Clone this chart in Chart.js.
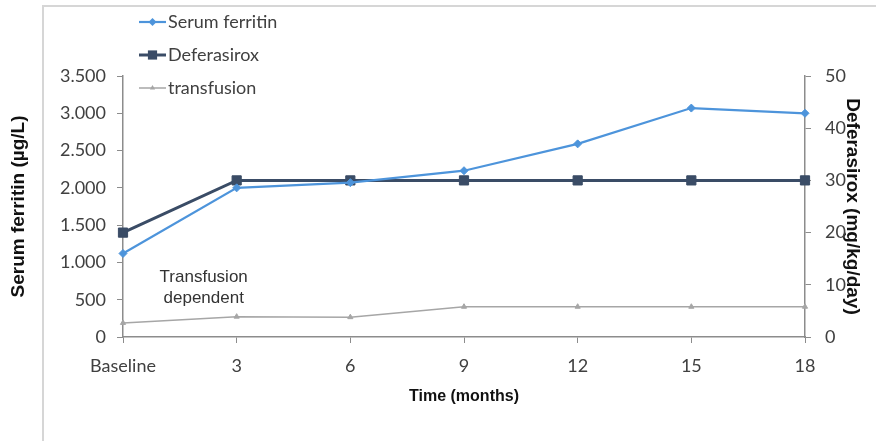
<!DOCTYPE html>
<html><head><meta charset="utf-8">
<script src="https://cdn.jsdelivr.net/npm/chart.js@4.4.1/dist/chart.umd.min.js"></script>
<style>html,body{margin:0;padding:0;background:#fff}#wrap{width:876px;height:441px;position:relative}</style>
</head><body><div id="wrap"><canvas id="c" width="876" height="441"></canvas></div>
<script>
// ---- data ----
const categories = ['Baseline', '3', '6', '9', '12', '15', '18'];
const serumFerritin = [1120, 2000, 2070, 2230, 2590, 3070, 3000];
const deferasirox = [20, 30, 30, 30, 30, 30, 30];
const transfusion = [2.7, 3.9, 3.8, 5.8, 5.8, 5.8, 5.8];
const seriesNames = ['Serum ferritin', 'Deferasirox', 'transfusion'];
const leftAxisMax = 3500, leftAxisStep = 500;
const rightAxisMax = 50, rightAxisStep = 10;
const annotationLines = ['Transfusion', 'dependent'];
const annotationAnchor = { x: 0.71, y: 665 };

const colFerritin = '#4d94db', colDef = '#3a4c66', colTrans = '#a6a6a6';
const axisCol = '#8c8c8c', tickTextCol = '#404040';
const tickFont = { family: 'Lato, "Liberation Sans", sans-serif', size: 18 };

function fmt(v) { return String(v).replace(/\B(?=(\d{3})+(?!\d))/g, '.'); }

const framePlugin = {
  id: 'frame',
  beforeDraw(chart) {
    const ctx = chart.ctx;
    ctx.save();
    ctx.strokeStyle = '#d6d6d6';
    ctx.lineWidth = 2;
    ctx.beginPath();
    ctx.moveTo(876, 6); ctx.lineTo(43, 6); ctx.lineTo(43, 441);
    ctx.stroke();
    ctx.restore();
  }
};

function marker(ctx, style, x, y, r, color) {
  ctx.fillStyle = color;
  ctx.beginPath();
  if (style === 'rectRot') {
    ctx.moveTo(x, y - r); ctx.lineTo(x + r, y); ctx.lineTo(x, y + r); ctx.lineTo(x - r, y);
  } else if (style === 'rect') {
    const s = r * Math.SQRT1_2; ctx.rect(x - s, y - s, 2 * s, 2 * s);
  } else {
    ctx.moveTo(x, y - r); ctx.lineTo(x + r * 0.87, y + r * 0.5); ctx.lineTo(x - r * 0.87, y + r * 0.5);
  }
  ctx.closePath(); ctx.fill();
}

const legendPlugin = {
  id: 'customLegend',
  afterDraw(chart) {
    const ctx = chart.ctx;
    const ys = [22, 55, 88];
    ctx.save();
    chart.data.datasets.forEach((ds, i) => {
      const y = ys[i];
      ctx.strokeStyle = ds.borderColor; ctx.lineWidth = ds.borderWidth;
      ctx.beginPath(); ctx.moveTo(139, y); ctx.lineTo(166, y); ctx.stroke();
      marker(ctx, ds.pointStyle, 152.5, y, ds.pointRadius, ds.borderColor);
      ctx.fillStyle = tickTextCol;
      ctx.font = '18px Lato, "Liberation Sans", sans-serif';
      ctx.textBaseline = 'middle'; ctx.textAlign = 'left';
      ctx.fillText(ds.label, 168, y);
    });
    // annotation
    const xs = chart.scales.x, ysL = chart.scales.y;
    const cx = xs.left + annotationAnchor.x * (xs.getPixelForValue(1) - xs.getPixelForValue(0));
    const cy = ysL.getPixelForValue(annotationAnchor.y);
    ctx.font = '17px "Liberation Sans", Arial, sans-serif';
    ctx.fillStyle = '#333333'; ctx.textAlign = 'center';
    ctx.fillText(annotationLines[0], cx, cy - 10.5);
    ctx.fillText(annotationLines[1], cx, cy + 10.5);
    ctx.restore();
  }
};

new Chart(document.getElementById('c'), {
  type: 'line',
  data: {
    labels: categories,
    datasets: [
      { label: seriesNames[0], data: serumFerritin, yAxisID: 'y', borderColor: colFerritin, backgroundColor: colFerritin,
        borderWidth: 2.2, pointStyle: 'rectRot', pointRadius: 4, pointBorderWidth: 1, tension: 0 },
      { label: seriesNames[1], data: deferasirox, yAxisID: 'y1', borderColor: colDef, backgroundColor: colDef,
        borderWidth: 3, pointStyle: 'rect', pointRadius: 6.5, pointBorderWidth: 1, tension: 0 },
      { label: seriesNames[2], data: transfusion, yAxisID: 'y1', borderColor: colTrans, backgroundColor: colTrans,
        borderWidth: 1.5, pointStyle: 'triangle', pointRadius: 3, pointBorderWidth: 1, tension: 0 }
    ]
  },
  options: {
    responsive: false,
    animation: false,
    devicePixelRatio: 1,
    layout: { padding: { top: 76, left: 0, right: 0, bottom: 0 } },
    plugins: { legend: { display: false }, tooltip: { enabled: false } },
    scales: {
      x: {
        offset: false,
        grid: { display: true, drawOnChartArea: false, drawTicks: true, tickLength: 6, color: axisCol, offset: false },
        border: { display: true, color: axisCol, width: 1.5 },
        ticks: { color: tickTextCol, font: tickFont, padding: 12, maxRotation: 0, autoSkip: false },
        title: { display: true, text: 'Time (months)', color: '#111',
          font: { family: '"Liberation Sans", Arial, sans-serif', size: 16, weight: 'bold' }, padding: { top: 0, bottom: 35 } },
        afterFit(s) { s.height = 104; }
      },
      y: {
        position: 'left', min: 0, max: leftAxisMax,
        grid: { display: true, drawOnChartArea: false, drawTicks: true, tickLength: 6, color: axisCol },
        border: { display: true, color: axisCol, width: 1.5 },
        ticks: { stepSize: leftAxisStep, color: tickTextCol, font: tickFont, padding: 11, callback: v => fmt(v) },
        title: { display: true, text: 'Serum ferritin (µg/L)', color: '#111',
          font: { family: '"Liberation Sans", Arial, sans-serif', size: 19, weight: 'bold' }, padding: { top: 7, bottom: 0 } },
        afterFit(s) { s.width = 123; }
      },
      y1: {
        position: 'right', min: 0, max: rightAxisMax,
        grid: { display: true, drawOnChartArea: false, drawTicks: true, tickLength: 6, color: axisCol },
        border: { display: true, color: axisCol, width: 1.5 },
        ticks: { stepSize: rightAxisStep, color: tickTextCol, font: tickFont, padding: 14 },
        title: { display: true, text: 'Deferasirox (mg/kg/day)', color: '#111',
          font: { family: '"Liberation Sans", Arial, sans-serif', size: 19, weight: 'bold' }, padding: { top: 12, bottom: 0 } },
        afterFit(s) { s.width = 71; }
      }
    }
  },
  plugins: [framePlugin, legendPlugin]
});
</script></body></html>
